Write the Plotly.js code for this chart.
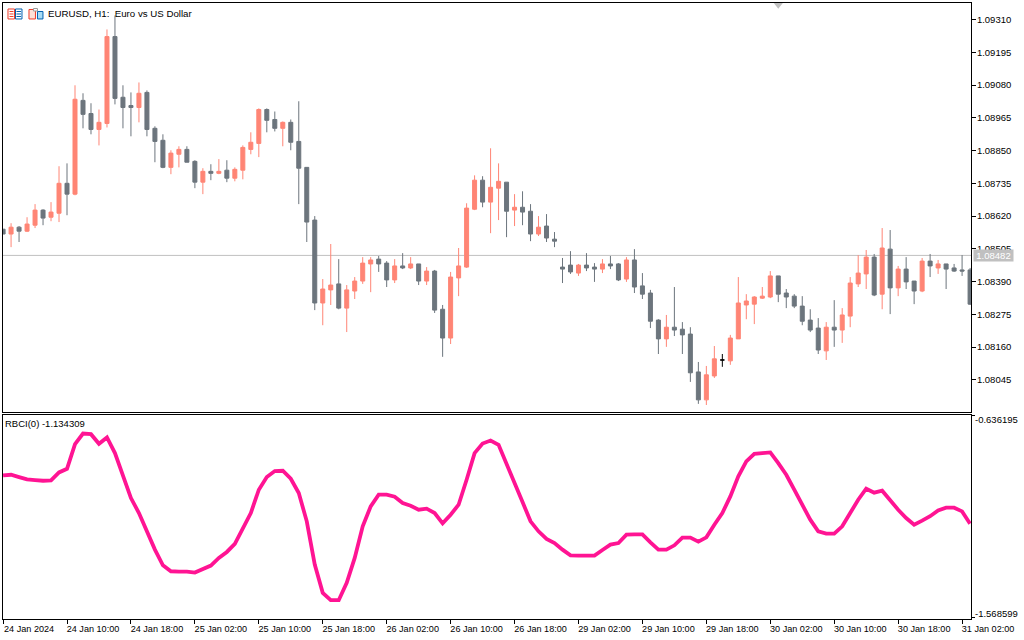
<!DOCTYPE html>
<html><head><meta charset="utf-8">
<script src="https://cdn.plot.ly/plotly-3.0.1.min.js"></script>
<style>html,body{margin:0;padding:0;background:#fff}#c{width:1024px;height:640px}</style>
</head><body><div id="c"></div>
<script>
const open = [1.08574,1.08557,1.08581,1.08567,1.08588,1.08641,1.08616,1.08630,1.08735,1.08697,1.09026,1.08980,1.08924,1.08945,1.09250,1.09037,1.09008,1.09001,1.09054,1.08928,1.08886,1.08791,1.08837,1.08854,1.08812,1.08739,1.08777,1.08770,1.08781,1.08753,1.08781,1.08854,1.08875,1.08994,1.08959,1.08928,1.08949,1.08882,1.08791,1.08606,1.08315,1.08361,1.08382,1.08297,1.08357,1.08392,1.08452,1.08469,1.08455,1.08396,1.08445,1.08438,1.08452,1.08392,1.08427,1.08293,1.08192,1.08403,1.08441,1.08644,1.08746,1.08669,1.08718,1.08739,1.08641,1.08651,1.08637,1.08557,1.08585,1.08539,1.08441,1.08448,1.08420,1.08448,1.08441,1.08434,1.08452,1.08452,1.08399,1.08466,1.08375,1.08350,1.08255,1.08189,1.08230,1.08223,1.08206,1.08073,1.07975,1.08059,null,1.08112,1.08189,1.08308,1.08311,1.08332,1.08336,1.08410,1.08350,1.08339,1.08304,1.08255,1.08227,1.08147,1.08230,1.08220,1.08269,1.08382,1.08417,1.08476,1.08346,1.08504,1.08368,1.08434,1.08392,1.08357,1.08462,1.08438,1.08452,1.08438,1.08431,1.08431];
const high = [1.08574,1.08595,1.08585,1.08616,1.08662,1.08644,1.08669,1.08795,1.08805,1.09079,1.09051,1.09016,1.08994,1.09275,1.09324,1.09079,1.09054,1.09089,1.09061,1.08935,1.08907,1.08851,1.08865,1.08865,1.08816,1.08788,1.08802,1.08820,1.08816,1.08791,1.08868,1.08914,1.08998,1.08998,1.08987,1.08952,1.08959,1.09023,1.08791,1.08620,1.08399,1.08522,1.08469,1.08378,1.08406,1.08476,1.08476,1.08480,1.08462,1.08469,1.08490,1.08476,1.08452,1.08441,1.08431,1.08308,1.08424,1.08508,1.08665,1.08763,1.08760,1.08858,1.08805,1.08739,1.08697,1.08707,1.08662,1.08620,1.08627,1.08564,1.08473,1.08497,1.08452,1.08490,1.08455,1.08469,1.08480,1.08455,1.08476,1.08504,1.08420,1.08361,1.08258,1.08273,1.08371,1.08248,1.08230,1.08108,1.08094,1.08164,null,1.08203,1.08406,1.08346,1.08339,1.08371,1.08427,1.08410,1.08364,1.08346,1.08339,1.08293,1.08262,1.08248,1.08325,1.08297,1.08406,1.08483,1.08501,1.08487,1.08578,1.08571,1.08445,1.08476,1.08392,1.08473,1.08487,1.08466,1.08452,1.08452,1.08483,1.08438];
const low = [1.08557,1.08511,1.08529,1.08564,1.08578,1.08588,1.08602,1.08599,1.08623,1.08693,1.08928,1.08907,1.08868,1.08931,1.09012,1.08928,1.08900,1.08949,1.08900,1.08809,1.08788,1.08767,1.08791,1.08809,1.08718,1.08697,1.08746,1.08767,1.08739,1.08742,1.08749,1.08837,1.08827,1.08914,1.08917,1.08865,1.08851,1.08662,1.08529,1.08290,1.08237,1.08308,1.08293,1.08213,1.08329,1.08382,1.08353,1.08424,1.08371,1.08385,1.08434,1.08434,1.08378,1.08378,1.08280,1.08126,1.08171,1.08339,1.08438,1.08641,1.08651,1.08560,1.08606,1.08546,1.08585,1.08588,1.08532,1.08550,1.08529,1.08511,1.08385,1.08417,1.08410,1.08427,1.08389,1.08420,1.08434,1.08392,1.08389,1.08350,1.08329,1.08227,1.08136,1.08161,1.08199,1.08136,1.08038,1.07961,1.07957,1.08052,null,1.08098,1.08189,1.08258,1.08241,1.08329,1.08332,1.08318,1.08297,1.08297,1.08237,1.08213,1.08136,1.08115,1.08161,1.08175,1.08230,1.08371,1.08364,1.08339,1.08293,1.08276,1.08339,1.08364,1.08311,1.08353,1.08406,1.08417,1.08364,1.08424,1.08410,1.08308];
const close = [1.08557,1.08581,1.08567,1.08592,1.08641,1.08613,1.08634,1.08735,1.08697,1.09030,1.08977,1.08924,1.08949,1.09250,1.09033,1.09001,1.09001,1.09051,1.08924,1.08882,1.08791,1.08841,1.08854,1.08809,1.08739,1.08777,1.08770,1.08777,1.08753,1.08784,1.08861,1.08879,1.08994,1.08956,1.08928,1.08949,1.08879,1.08788,1.08599,1.08315,1.08364,1.08378,1.08297,1.08361,1.08392,1.08455,1.08466,1.08452,1.08396,1.08445,1.08438,1.08452,1.08392,1.08427,1.08290,1.08192,1.08406,1.08445,1.08648,1.08746,1.08669,1.08721,1.08742,1.08637,1.08651,1.08634,1.08557,1.08581,1.08543,1.08532,1.08434,1.08424,1.08448,1.08438,1.08434,1.08452,1.08445,1.08396,1.08466,1.08371,1.08346,1.08251,1.08189,1.08230,1.08220,1.08203,1.08070,1.07975,1.08063,1.08119,null,1.08192,1.08315,1.08322,1.08336,1.08339,1.08410,1.08346,1.08336,1.08304,1.08251,1.08220,1.08150,1.08230,1.08220,1.08273,1.08385,1.08420,1.08476,1.08343,1.08508,1.08368,1.08434,1.08389,1.08357,1.08462,1.08445,1.08452,1.08434,1.08427,1.08427,1.08311];
const dojiBar = [90];
const dojiOpen = [1.08115];
const dojiHigh = [1.08136];
const dojiLow = [1.08091];
const dojiClose = [1.08115];
const rbci = [-0.9119,-0.9089,-0.9196,-0.9303,-0.9334,-0.9364,-0.9349,-0.8981,-0.8813,-0.7679,-0.7188,-0.7219,-0.7663,-0.7372,-0.8092,-0.9089,-1.0161,-1.0851,-1.1740,-1.2537,-1.3257,-1.3533,-1.3549,-1.3549,-1.3595,-1.3457,-1.3273,-1.2920,-1.2644,-1.2276,-1.1541,-1.0851,-0.9778,-0.9196,-0.8920,-0.8905,-0.9273,-0.9932,-1.1234,-1.3227,-1.4529,-1.4867,-1.4867,-1.4070,-1.2920,-1.1464,-1.0545,-1.0008,-1.0008,-1.0100,-1.0391,-1.0514,-1.0698,-1.0652,-1.0851,-1.1326,-1.0928,-1.0468,-0.9319,-0.8092,-0.7648,-0.7510,-0.7709,-0.8552,-0.9472,-1.0345,-1.1234,-1.1694,-1.2047,-1.2231,-1.2537,-1.2798,-1.2813,-1.2813,-1.2813,-1.2552,-1.2307,-1.2231,-1.1847,-1.1832,-1.1832,-1.2200,-1.2537,-1.2537,-1.2338,-1.1985,-1.1985,-1.2169,-1.1970,-1.1388,-1.0851,-1.0085,-0.9165,-0.8476,-0.8123,-0.8092,-0.8062,-0.8552,-0.9089,-0.9778,-1.0468,-1.1158,-1.1694,-1.1801,-1.1801,-1.1464,-1.0851,-1.0238,-0.9732,-0.9916,-0.9824,-1.0284,-1.0698,-1.1081,-1.1388,-1.1204,-1.0997,-1.0729,-1.0606,-1.0606,-1.0775,-1.134309];
const priceTicks = [1.09310,1.09195,1.09080,1.08965,1.08850,1.08735,1.08620,1.08505,1.08390,1.08275,1.08160,1.08045];
const timeTickBars = [0,8,16,24,32,40,48,56,64,72,80,88,96,104,112,120];
const timeLabels = ["24 Jan 2024","24 Jan 10:00","24 Jan 18:00","25 Jan 02:00","25 Jan 10:00","25 Jan 18:00","26 Jan 02:00","26 Jan 10:00","26 Jan 18:00","29 Jan 02:00","29 Jan 10:00","29 Jan 18:00","30 Jan 02:00","30 Jan 10:00","30 Jan 18:00","31 Jan 02:00"];
const rbciTicks = [-0.636195,-1.568599];
const rbciTickLabels = ["-0.636195","-1.568599"];
const bidPrice = 1.08482;
const markerBar = [97];
const markerPrice = [1.09363];

const UP='#ff8575', DOWN='#6c757d', PINK='#ff1493', BID='#c0c0c0';
const FONT={family:'"Liberation Sans",sans-serif',size:9.5,color:'#000'};
const TIMEFONT=Object.assign({},FONT,{size:9.1});
const TITLEFONT=Object.assign({},FONT,{size:9.7});
const bars=open.map((_,i)=>i);
const L=2.5,T=2.5,W=969,H=617;
const px=x=>(x-L)/W, py=y=>1-(y-T)/H;
const XMIN=-0.01, XMAX=W/8-0.01;

const traces=[
 {type:'candlestick',x:bars,open,high,low,close,xaxis:'x2',yaxis:'y',whiskerwidth:0,hoverinfo:'skip',showlegend:false,
  increasing:{line:{color:UP,width:1},fillcolor:UP},decreasing:{line:{color:DOWN,width:1},fillcolor:DOWN}},
 {type:'candlestick',x:dojiBar,open:dojiOpen,high:dojiHigh,low:dojiLow,close:dojiClose,xaxis:'x2',yaxis:'y',whiskerwidth:0,hoverinfo:'skip',showlegend:false,
  increasing:{line:{color:'#000',width:1},fillcolor:'#000'},decreasing:{line:{color:'#000',width:1},fillcolor:'#000'}},
 {type:'scatter',mode:'markers',x:markerBar,y:markerPrice,xaxis:'x2',yaxis:'y',hoverinfo:'skip',showlegend:false,
  marker:{symbol:'triangle-down',size:9,color:BID}},
 {type:'scatter',mode:'lines',x:bars,y:rbci,xaxis:'x',yaxis:'y2',hoverinfo:'skip',showlegend:false,
  line:{color:PINK,width:3.8,shape:'linear'}}
];

function iconRect(x0,y0,x1,y1,line,fill){return {type:'rect',xref:'paper',yref:'paper',x0:px(x0),x1:px(x1),y0:py(y0),y1:py(y1),line:{color:line,width:1},fillcolor:fill||'rgba(0,0,0,0)',layer:'above'};}
function iconLine(x0,y,x1,c){return {type:'line',xref:'paper',yref:'paper',x0:px(x0),x1:px(x1),y0:py(y),y1:py(y),line:{color:c,width:1},layer:'above'};}
const RED='#f03c28',BLUE='#0060b0';
const icons=[
 iconRect(7.5,8.5,14,18.5,RED),iconLine(9,11,13,RED),iconLine(9,13.5,13,RED),iconLine(9,16,13,RED),
 iconRect(15,8.5,21.5,18.5,BLUE),iconLine(16,11,20.5,BLUE),iconLine(16,13.5,20.5,BLUE),iconLine(16,16,20.5,BLUE),
 iconRect(28.5,9,35,18.5,RED,'#fde0d8'),iconRect(37,11,42.5,18.5,BLUE,'#a8dcf5'),iconRect(33,8,37,10.5,'#9a9a9a','#ffffff')
];

const layout={
 width:1024,height:640,margin:{l:L,r:1024-L-W,t:T,b:640-T-H,pad:0},paper_bgcolor:'#fff',plot_bgcolor:'#fff',
 font:FONT,showlegend:false,hovermode:false,boxmode:'overlay',boxgap:0.5,boxgroupgap:0,
 xaxis:{domain:[0,1],anchor:'y2',range:[XMIN,XMAX],showgrid:false,zeroline:false,showline:true,mirror:true,linecolor:'#000',linewidth:1,
  tickmode:'array',tickvals:timeTickBars,ticktext:timeLabels,ticks:'outside',ticklen:4,tickcolor:'#000',tickwidth:1,ticklabelshift:26,ticklabelstandoff:-3,tickangle:0,tickfont:TIMEFONT,rangeslider:{visible:false}},
 xaxis2:{domain:[0,1],anchor:'y',range:[XMIN,XMAX],showgrid:false,zeroline:false,showline:true,mirror:true,linecolor:'#000',linewidth:1,showticklabels:false,ticks:'',rangeslider:{visible:false}},
 yaxis:{domain:[0.3363,1],anchor:'x2',side:'right',range:[1.079330,1.093678],showgrid:false,zeroline:false,showline:true,mirror:true,linecolor:'#000',linewidth:1,
  tickmode:'array',tickvals:priceTicks,tickformat:'.5f',ticks:'outside',ticklen:4,tickcolor:'#000',tickwidth:1,ticklabelstandoff:-1,tickfont:FONT},
 yaxis2:{domain:[0,0.3314],anchor:'x',side:'right',range:[-1.5732,-0.63298],showgrid:false,zeroline:false,showline:true,mirror:true,linecolor:'#000',linewidth:1,
  tickmode:'array',tickvals:rbciTicks,ticktext:['',''],ticks:'outside',ticklen:3,tickcolor:'#000',tickwidth:1,tickfont:FONT},
 shapes:[{type:'line',xref:'x2',yref:'y',x0:XMIN,x1:XMAX,y0:bidPrice,y1:bidPrice,line:{color:BID,width:1},layer:'below'},...icons],
 annotations:[
  {xref:'paper',yref:'paper',x:px(46),y:py(13.5),xanchor:'left',yanchor:'middle',showarrow:false,text:'EURUSD, H1:\u00a0\u00a0Euro vs US Dollar',font:TITLEFONT},
  {xref:'paper',yref:'paper',x:px(3),y:py(423.5),xanchor:'left',yanchor:'middle',showarrow:false,text:'RBCI(0) -1.134309',font:FONT},
  {xref:'paper',yref:'y',x:px(974),y:bidPrice,xanchor:'left',yanchor:'middle',showarrow:false,text:bidPrice.toFixed(5),width:39,height:11,bgcolor:BID,borderpad:0,font:Object.assign({},FONT,{color:'#fff'})},
  {xref:'paper',yref:'paper',x:px(974),y:py(420),xanchor:'left',yanchor:'middle',showarrow:false,text:rbciTickLabels[0],font:FONT},
  {xref:'paper',yref:'paper',x:px(974),y:py(614),xanchor:'left',yanchor:'middle',showarrow:false,text:rbciTickLabels[1],font:FONT}
 ]
};
Plotly.newPlot('c',traces,layout,{staticPlot:true,displayModeBar:false,responsive:false});
</script></body></html>
